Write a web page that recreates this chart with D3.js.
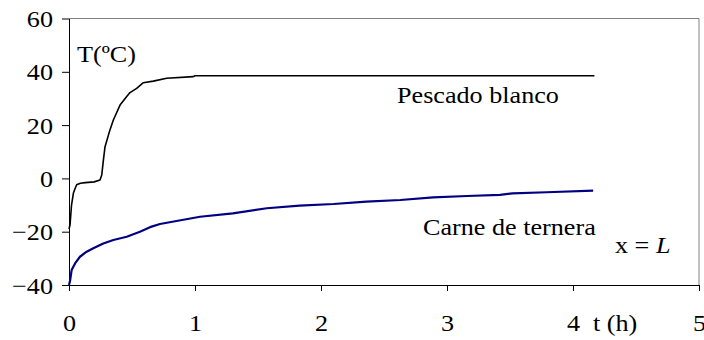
<!DOCTYPE html>
<html>
<head>
<meta charset="utf-8">
<script src="https://cdn.jsdelivr.net/npm/d3@7"></script>
<style>
  html, body { margin: 0; padding: 0; background: #fff; }
  svg { display: block; }
  svg text { font-family: "Liberation Serif", "Times New Roman", serif !important; }
</style>
</head>
<body>
<svg id="chart" width="704" height="340"></svg>
<script>
// Temperature at x = L versus time for two foods
const xTicks = [0, 1, 2, 3, 4, 5];
const yTicks = [-40, -20, 0, 20, 40, 60];

const pescadoTime = [0, 0.008, 0.02, 0.035, 0.05, 0.061, 0.09, 0.13, 0.2, 0.246, 0.26, 0.272, 0.286, 0.325, 0.352, 0.405, 0.458, 0.484, 0.537, 0.59, 0.669, 0.775, 0.987, 1.0, 1.516, 4.17];
const pescadoTemp = [-19, -17.5, -10, -5.5, -3.6, -2.4, -1.8, -1.6, -1.3, -0.6, 1.3, 6.5, 11.9, 18.2, 21.9, 27.5, 30.7, 32.2, 33.8, 35.9, 36.5, 37.6, 38.2, 38.5, 38.5, 38.5];

const carneTime = [0, 0.008, 0.021, 0.048, 0.087, 0.14, 0.193, 0.272, 0.352, 0.458, 0.563, 0.643, 0.722, 1.04, 1.30, 1.57, 1.83, 2.10, 2.36, 2.63, 2.89, 3.16, 3.42, 3.52, 3.79, 4.16];
const carneTemp = [-40, -38.5, -34.4, -31.9, -29.4, -27.5, -26.2, -24.4, -23.1, -21.9, -20, -18.3, -17.1, -14.4, -13.1, -11.2, -10.2, -9.6, -8.7, -8.1, -7.1, -6.6, -6.2, -5.6, -5.2, -4.6];

const svg = d3.select("#chart");
const plotLeft = 69, plotRight = 699, plotTop = 18.5, plotBottom = 285;
const fontSize = 24, stretch = 1.09;

const x = d3.scaleLinear().domain([0, 5]).range([plotLeft, plotRight]);
const y = d3.scaleLinear().domain([-40, 60]).range([plotBottom, plotTop]);

// frame: light top and right edges
svg.append("line").attr("x1", plotLeft).attr("x2", plotRight).attr("y1", plotTop).attr("y2", plotTop)
  .attr("stroke", "#808080").attr("stroke-width", 1);
svg.append("line").attr("x1", plotRight).attr("x2", plotRight).attr("y1", plotTop).attr("y2", plotBottom)
  .attr("stroke", "#808080").attr("stroke-width", 1);

// axes
const yAxis = svg.append("g").attr("transform", `translate(${plotLeft},0)`)
  .call(d3.axisLeft(y).tickValues(yTicks).tickSize(7).tickSizeOuter(0).tickFormat(d3.format("d")));
const xAxis = svg.append("g").attr("transform", `translate(0,${plotBottom})`)
  .call(d3.axisBottom(x).tickValues(xTicks).tickSize(6).tickSizeOuter(0).tickFormat(d3.format("d")));

[yAxis, xAxis].forEach(g => {
  g.attr("font-size", fontSize);
  g.select(".domain").attr("stroke", "#000").attr("stroke-width", 1);
  g.selectAll(".tick line").attr("stroke", "#000").attr("stroke-width", 1);
  g.selectAll(".tick text").attr("fill", "#000");
});

// tick labels, slightly widened like the rest of the text
yAxis.selectAll(".tick text")
  .attr("x", 0).attr("dy", null).attr("y", 8)
  .attr("transform", `translate(-16,0) scale(${stretch},1)`);
xAxis.selectAll(".tick text")
  .attr("x", 0).attr("dy", null).attr("y", 46)
  .attr("transform", `scale(${stretch},1)`);

// series
const line = d3.line().x(d => x(d[0])).y(d => y(d[1]));
svg.append("path")
  .datum(d3.zip(pescadoTime, pescadoTemp))
  .attr("d", line).attr("fill", "none").attr("stroke", "#000").attr("stroke-width", 1.6)
  .attr("stroke-linejoin", "round");
svg.append("path")
  .datum(d3.zip(carneTime, carneTemp))
  .attr("d", line).attr("fill", "none").attr("stroke", "#000080").attr("stroke-width", 2.2)
  .attr("stroke-linejoin", "round");

// text labels
function label(tx, ty, parts) {
  const t = svg.append("text")
    .attr("transform", `translate(${tx},${ty}) scale(${stretch},1)`)
    .attr("font-size", fontSize).attr("fill", "#000");
  parts.forEach(p => {
    const s = t.append("tspan").text(p.text);
    if (p.italic) s.attr("font-style", "italic");
  });
}
label(77, 62, [{ text: "T(ºC)" }]);
label(397, 103, [{ text: "Pescado blanco" }]);
label(423, 235, [{ text: "Carne de ternera" }]);
label(615, 253, [{ text: "x = " }, { text: "L", italic: true }]);
label(593, 331, [{ text: "t (h)" }]);
</script>
</body>
</html>
